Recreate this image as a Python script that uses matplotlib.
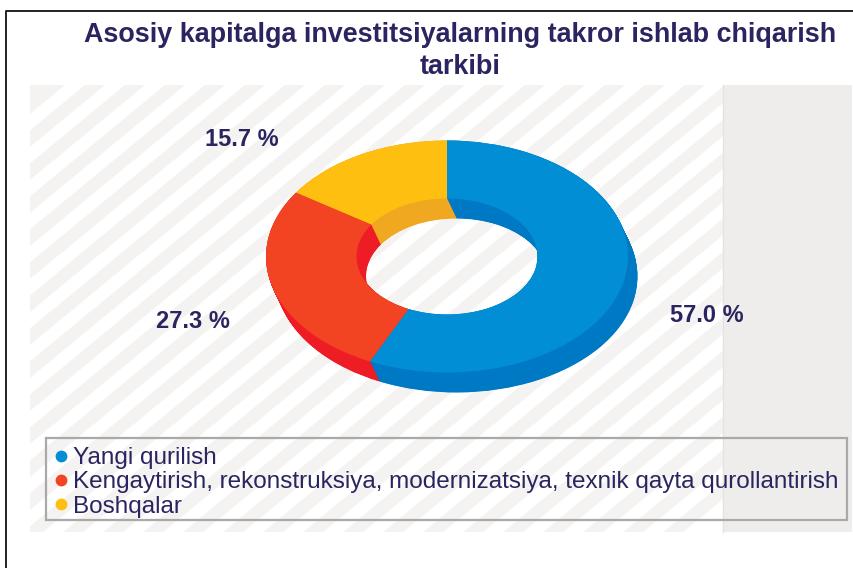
import matplotlib
matplotlib.use("Agg")
import matplotlib.pyplot as plt
import numpy as np
from matplotlib.lines import Line2D
from matplotlib.patches import Polygon, Rectangle

title_lines = ["Asosiy kapitalga investitsiyalarning takror ishlab chiqarish", "tarkibi"]
categories = ["Yangi qurilish",
              "Kengaytirish, rekonstruksiya, modernizatsiya, texnik qayta qurollantirish",
              "Boshqalar"]
values = [57.0, 27.3, 15.7]
value_labels = ["57.0 %", "27.3 %", "15.7 %"]
top_colors = ["#028ed5", "#f24423", "#febf10"]
side_colors = ["#0079c4", "#ee1c24", "#f0a821"]
ink = "#2a2560"

plt.rcParams["font.family"] = ["Liberation Sans", "DejaVu Sans"]
fig = plt.figure(figsize=(8.54, 5.68), dpi=100)

# Background axes in pixel coordinates
bg = fig.add_axes([0, 0, 1, 1], zorder=0)
bg.set_xlim(0, 854)
bg.set_ylim(568, 0)
bg.axis("off")

area = Rectangle((30, 85), 693, 447, fc="white", ec="none", zorder=0)
bg.add_patch(area)
slope = 40 / 33
bands = [(25, 65)] + [(45 + 40 * k, 65 + 40 * k) for k in range(1, 30)]
for u0, u1 in bands:
    h = 600
    p = Polygon([(u0, 85), (u1, 85), (u1 - h * slope, 85 + h), (u0 - h * slope, 85 + h)],
                closed=True, fc="#f4f3f1", ec="none", zorder=1)
    bg.add_patch(p)
    p.set_clip_path(area)
bg.add_patch(Rectangle((723, 85), 129, 447, fc="#eeedeb", ec="none", zorder=2))
bg.plot([723, 723], [85, 532], color="#e4e3e1", lw=1, zorder=3)

# Frame lines of the screenshot
bg.plot([6.5, 6.5, 854], [568, 10.5, 10.5], color="#222222", lw=1.4, zorder=3)

# Title
bg.text(460.5, 35, title_lines[0], ha="center", va="center", fontsize=19.35,
        fontweight="bold", color=ink, zorder=5)
bg.text(460, 66.5, title_lines[1], ha="center", va="center", fontsize=19.35,
        fontweight="bold", color=ink, zorder=5)

# Value labels
label_pos = [(706.5, 315.5), (192.5, 322), (241.5, 140)]
for txt, (x, y) in zip(value_labels, label_pos):
    bg.text(x, y, txt, ha="center", va="center", fontsize=17, fontweight="bold",
            color=ink, zorder=5)

# Legend
bg.add_patch(Rectangle((46.5, 437.5), 801, 82, fc="none", ec="#a9a9a9", lw=1.6, zorder=5))
handles = [Line2D([], [], marker="o", ls="none", ms=8.5, mfc=c, mec="none") for c in top_colors]
leg = bg.legend(handles, categories, loc="upper left",
                bbox_to_anchor=(46 / 854, 1 - 440 / 568), borderaxespad=0,
                frameon=False, fontsize=17.45, labelcolor=ink, handletextpad=0.16,
                labelspacing=0.09, borderpad=0.3, handlelength=0.667)
leg.set_zorder(6)

# Donut axes: unit x = 181 px, unit y = 116 px, centre at pixel (447, 256.5)
rx, ry = 181.0, 116.0
cx, cy = 447.0, 256.5
ax = fig.add_axes([0, 0, 1, 1], zorder=1)
ax.patch.set_alpha(0)
depth_x, depth_y = 9.5 / rx, -20.0 / ry
steps = 60
for t in np.linspace(1, 0, steps):
    ax.pie(values, colors=side_colors, startangle=90, counterclock=False, radius=1,
           center=(t * depth_x, t * depth_y),
           wedgeprops=dict(width=0.5, linewidth=0), normalize=True)
ax.pie(values, colors=top_colors, startangle=90, counterclock=False, radius=1,
       center=(0, 0), wedgeprops=dict(width=0.5, linewidth=0), normalize=True)
ax.set_aspect("auto")
ax.set_xlim(-cx / rx, (854 - cx) / rx)
ax.set_ylim((cy - 568) / ry, cy / ry)
ax.axis("off")

fig.savefig("out.png", dpi=100)
